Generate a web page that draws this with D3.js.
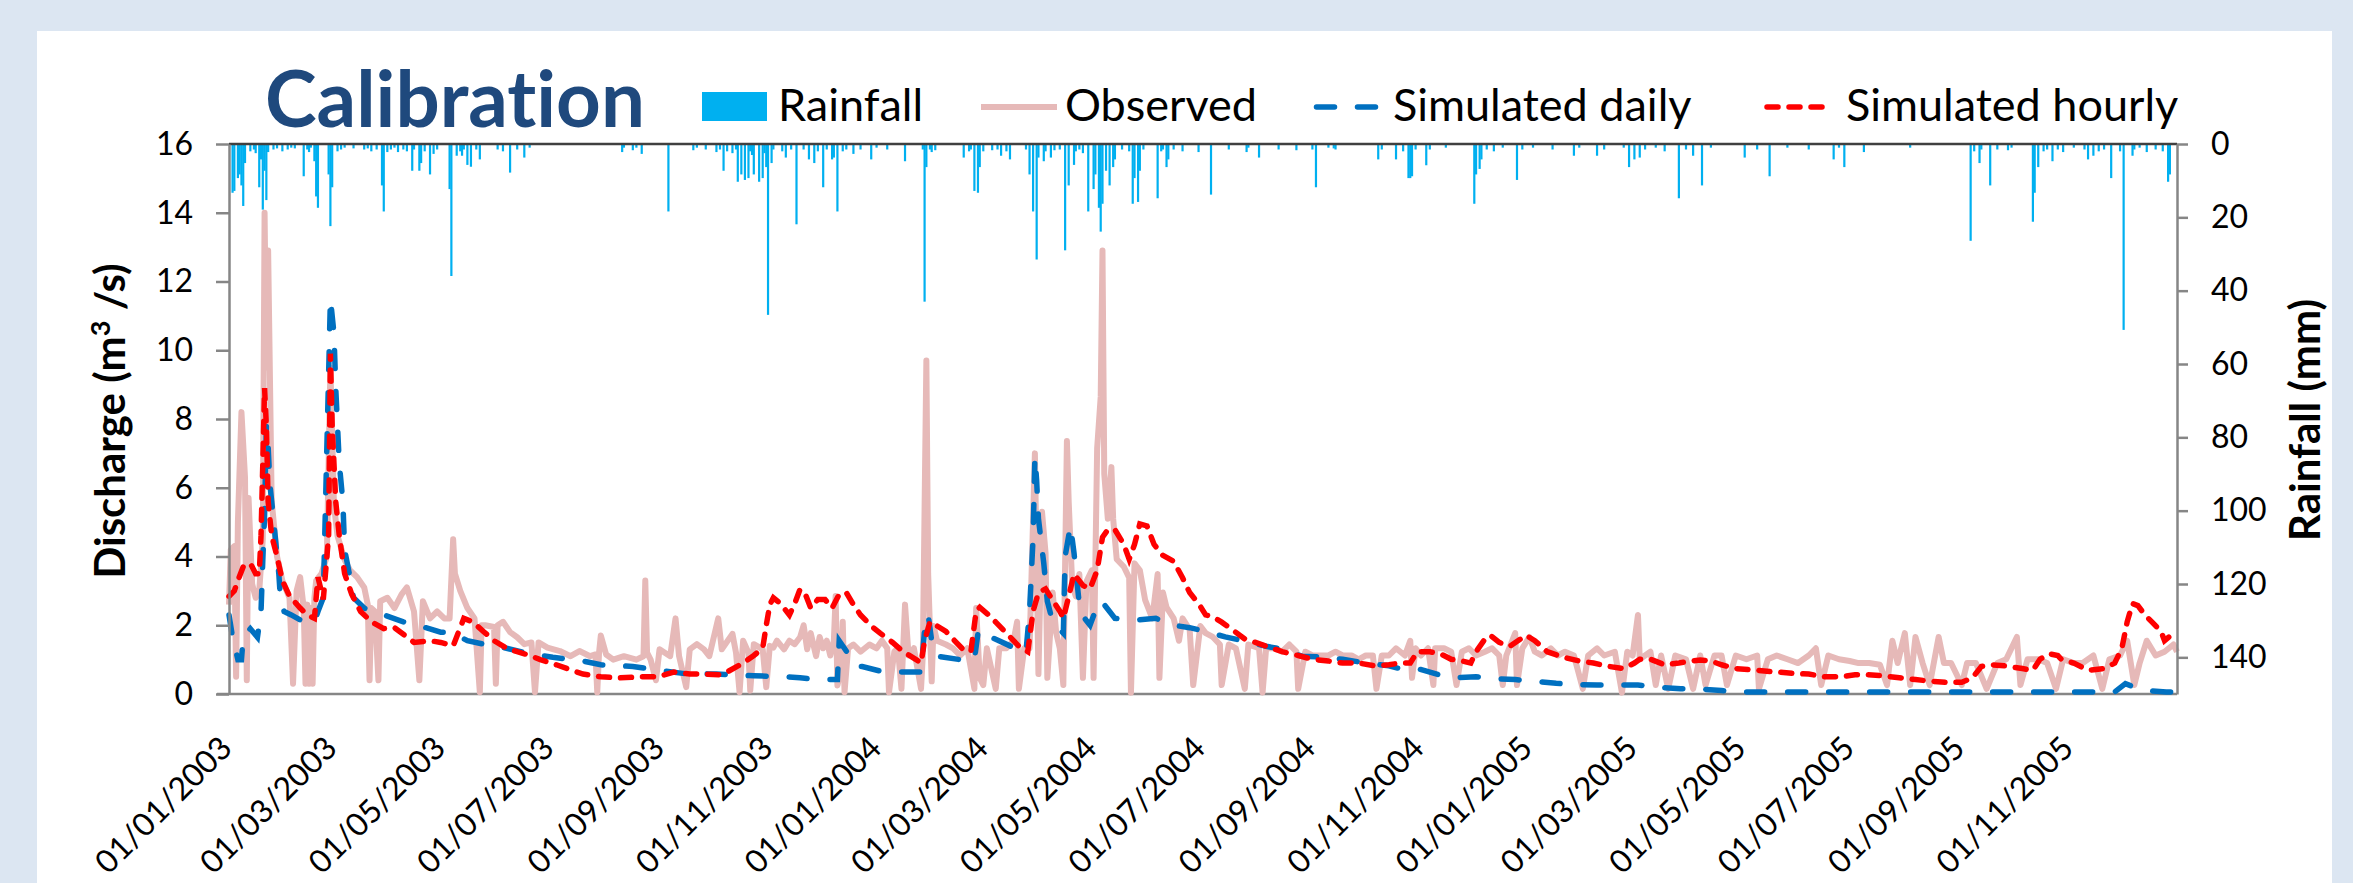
<!DOCTYPE html>
<html>
<head>
<meta charset="utf-8">
<script src="https://cdn.jsdelivr.net/npm/d3@7"></script>
<style>
  html, body { margin: 0; padding: 0; background: #dce6f2; }
  svg { display: block; }
  text { font-family: Lato, "Open Sans", sans-serif; font-variant-ligatures: none; }
</style>
</head>
<body>
<div id="graf"></div>
<script>
// I. Datos (dia = dias desde 01/01/2003)

const startDate = '01/01/2003'
const endDate = '31/12/2005'

const tickLabels = ['01/01/2003', '01/03/2003', '01/05/2003', '01/07/2003', '01/09/2003', '01/11/2003',
  '01/01/2004', '01/03/2004', '01/05/2004', '01/07/2004', '01/09/2004', '01/11/2004',
  '01/01/2005', '01/03/2005', '01/05/2005', '01/07/2005', '01/09/2005', '01/11/2005']
const dischargeTicks = [0, 2, 4, 6, 8, 10, 12, 14, 16]
const rainTicks = [0, 20, 40, 60, 80, 100, 120, 140]

// caudal observado [dia, m3/s]
const observed = [
  [0,2.6],[1,4.2],[3,4.3],[4,0.5],[5,5.0],[7,8.2],[9,6.3],[10,0.4],[11,5.7],[13,3.2],[15,2.8],[17,3.0],[19,4.5],
  [20,14.0],[21,9.5],[22,12.9],[24,5.6],[27,4.0],[30,3.3],[34,2.8],[36,0.3],[38,3.0],[40,3.4],[42,2.5],[43,0.3],
  [44,2.6],[45,0.3],[46,2.5],[47,0.3],[48,2.8],[49,3.3],[52,3.5],[55,4.0],[57,9.5],[59,5.5],[61,4.6],[65,3.9],
  [68,3.6],[72,3.4],[76,3.1],[78,2.6],[79,0.4],[80,2.5],[82,2.4],[84,0.4],[85,2.7],[89,2.8],[93,2.5],[97,2.9],
  [100,3.1],[104,2.4],[107,0.4],[109,2.7],[113,2.2],[117,2.4],[121,2.2],[124,2.2],[126,4.5],[127,3.5],[130,3.0],
  [134,2.5],[138,2.2],[141,0.05],[142,2.0],[144,2.0],[149,1.95],[150,0.3],[151,2.0],[154,2.1],[158,1.8],[162,1.65],
  [166,1.45],[170,1.5],[172,0.05],[174,1.5],[179,1.35],[186,1.25],[192,1.1],[197,1.25],[203,1.1],[206,1.15],
  [207,0.05],[208,1.2],[209,1.7],[212,1.15],[216,1.0],[222,1.1],[229,1.0],[233,1.1],[234,3.3],[235,1.2],[237,1.0],
  [240,0.4],[242,1.3],[248,1.1],[251,2.2],[253,1.1],[257,0.2],[259,1.3],[263,1.45],[267,1.3],[270,1.1],[275,2.2],
  [277,1.3],[283,1.75],[285,1.2],[287,0.05],[289,1.55],[292,1.2],[293,0.1],[295,1.45],[300,1.3],[302,0.2],[304,1.4],
  [306,1.35],[308,1.55],[312,1.3],[315,1.55],[318,1.45],[321,1.65],
  [323,2.0],[325,1.3],[327,1.77],[330,1.1],[332,1.66],[334,1.33],[336,1.55],[338,1.12],[340,1.55],[341,2.85],
  [342,0.25],[344,0.7],[345,2.1],[346,0.05],[348,1.33],[351,1.44],[355,1.23],[360,1.44],[364,1.33],[367,1.55],
  [370,1.33],[371,0.05],[374,1.23],[376,1.33],[378,0.15],[380,2.6],[382,1.12],[385,1.33],[389,0.15],[390,1.12],
  [392,9.7],[393,3.5],[395,0.37],[396,1.98],[398,1.55],[403,1.44],[407,1.33],[411,1.12],[415,1.33],[419,0.15],
  [420,2.5],[422,0.47],[424,0.26],[426,1.33],[431,0.15],[433,1.33],[437,1.33],[441,1.55],[443,2.1],[444,0.15],
  [447,1.33],[450,1.33],[453,7.0],[455,0.58],[457,5.3],[459,4.1],[460,0.47],[463,2.95],[465,1.77],[467,1.33],
  [469,0.26],[471,7.36],[472,5.6],[474,3.16],[476,2.84],[478,3.49],[480,0.47],[482,3.27],[485,3.6],[486,0.47],
  [488,7.15],[490,8.65],[491,12.9],[492,6.4],[494,5.1],[496,6.6],[497,5.1],[499,3.92],[503,3.7],[506,3.38],
  [507,0.04],[509,3.8],[512,3.6],[515,2.73],[519,2.2],[522,3.49],[523,0.47],[525,2.95],[527,2.52],[531,2.2],
  [534,1.55],[536,2.2],[540,1.87],[542,0.26],[546,1.98],[549,1.77],[553,1.66],[557,1.44],[558,0.26],[562,1.44],
  [566,1.33],[571,0.15],[573,1.44],[579,1.33],[581,0.04],[583,1.33],[588,1.33],[592,1.23],[596,1.44],[600,1.23],
  [601,0.15],[605,1.23],[609,1.12],[613,1.12],[618,1.12],[622,1.23],[626,1.12],[631,1.12],[635,1.01],[639,1.12],
  [643,1.12],[645,0.15],[648,1.12],[652,1.12],[656,1.33],
  [661,1.12],[664,1.55],[665,0.47],[667,1.33],[670,1.12],[674,1.33],[677,0.26],[678,1.33],[683,1.33],[687,1.23],
  [690,0.26],[693,1.23],[697,1.33],[701,1.12],[706,1.23],[710,1.33],[714,1.12],[716,0.26],[718,1.12],[723,1.77],
  [724,0.26],[727,1.33],[731,1.66],[734,1.23],[738,1.12],[743,1.33],[747,1.12],[751,1.23],[756,1.12],[761,0.15],
  [764,1.12],[769,1.33],[773,1.12],[779,1.23],[783,0.04],[786,1.23],[789,1.12],[792,2.3],[793,1.01],[799,1.23],
  [802,0.26],[805,1.12],[809,0.15],[813,1.12],[819,1.01],[823,0.15],[827,1.12],[830,0.26],[835,1.12],[839,1.12],
  [842,0.26],[847,1.12],[853,1.01],[859,1.12],[860,0.15],[865,1.01],[870,1.12],[876,1.01],[882,0.9],[888,1.12],
  [892,1.33],[895,0.26],[899,1.12],[905,1.01],[911,0.96],[916,0.9],[922,0.9],[928,0.85],[932,0.26],[935,1.55],
  [938,0.9],[942,1.77],[945,0.26],[948,1.66],[952,0.9],[956,0.26],[961,1.66],[964,0.9],[968,0.9],[974,0.26],
  [977,0.9],[982,0.9],[988,0.15],[994,0.9],[999,1.01],[1005,1.66],[1007,0.26],[1011,1.01],[1017,1.01],[1022,0.9],
  [1027,0.15],[1031,1.01],[1037,0.9],[1042,0.9],[1048,1.12],[1053,0.15],[1057,1.01],[1063,1.12],[1067,1.55],
  [1071,0.26],[1074,0.9],[1078,1.55],[1083,1.12],[1088,1.23],[1093,1.44],[1095,1.23]
]

// simulado diario [dia, m3/s]
const simDaily = [
  [0,2.3],[2,1.65],[5,1.0],[7,1.0],[8,1.65],[12,1.9],[16,1.65],[18,2.4],[19,3.9],[20,5.2],[21,7.8],[22,7.2],
  [23,6.1],[25,5.1],[28,3.5],[29,2.7],[31,2.4],[35,2.3],[42,2.1],[48,2.1],[50,2.4],[53,2.8],[57,11.5],[59,10.5],
  [60,8.9],[62,6.7],[64,5.6],[65,4.2],[68,3.4],[70,2.8],[76,2.5],[87,2.3],[98,2.1],[106,2.0],[119,1.8],[125,1.8],
  [134,1.55],[143,1.45],[156,1.33],[169,1.17],[182,1.07],[199,0.96],[209,0.85],[227,0.8],[242,0.69],[255,0.6],
  [274,0.58],[295,0.53],[313,0.5],[321,0.47],[330,0.42],[342,0.42],[343,1.55],[349,1.1],[353,0.8],[356,0.8],
  [368,0.64],[389,0.64],[391,1.87],[393,2.3],[395,1.55],[398,1.1],[411,1.0],[419,1.0],[421,1.77],[424,1.55],
  [428,1.66],[439,1.4],[448,1.23],[450,2.4],[452,4.56],[453,6.9],[454,6.2],[455,5.1],[458,3.8],[460,2.7],
  [463,2.1],[469,1.77],[470,4.0],[473,4.9],[475,4.1],[478,2.6],[481,2.2],[484,2.0],[489,2.7],[492,2.6],[495,2.4],
  [498,2.2],[510,2.15],[521,2.2],[531,2.0],[540,1.93],[549,1.82],[560,1.66],[570,1.55],[583,1.39],[594,1.28],
  [603,1.1],[616,1.07],[626,1.01],[639,0.9],[652,0.82],[658,0.74],[668,0.74],[682,0.53],[687,0.47],[701,0.5],
  [711,0.45],[723,0.42],[733,0.37],[746,0.31],[756,0.28],[769,0.26],[780,0.26],[792,0.26],[802,0.2],[816,0.15],
  [826,0.15],[839,0.1],[850,0.06],[862,0.06],[1060,0.06],[1066,0.3],[1071,0.2],[1077,0.1],[1089,0.06],[1095,0.06]
]

// simulado horario [dia, m3/s]
const simHourly = [
  [0,2.84],[3,3.0],[5,3.3],[8,3.7],[12,3.8],[15,3.5],[17,3.5],[18,4.6],[19,6.7],[20,8.9],[21,7.8],[22,5.6],
  [23,5.1],[24,4.6],[27,4.0],[30,3.3],[34,2.85],[40,2.5],[44,2.3],[48,2.2],[50,3.4],[53,2.75],[56,4.6],[57,9.9],
  [58,7.8],[60,5.6],[62,4.6],[65,3.5],[69,2.9],[74,2.4],[80,2.1],[87,1.9],[93,1.93],[100,1.66],[104,1.5],
  [113,1.55],[119,1.5],[126,1.4],[132,2.2],[137,2.1],[143,1.82],[149,1.55],[156,1.33],[162,1.23],[168,1.14],
  [175,1.0],[184,0.85],[190,0.74],[199,0.58],[209,0.5],[220,0.47],[231,0.5],[241,0.5],[250,0.64],[259,0.58],
  [267,0.58],[276,0.56],[280,0.64],[289,0.9],[295,1.12],[300,1.33],[302,2.0],[304,2.6],[306,2.8],[310,2.63],
  [315,2.3],[318,2.63],[321,3.05],[324,2.9],[327,2.5],[331,2.75],[335,2.75],[339,2.5],[343,2.9],[347,2.95],
  [351,2.6],[355,2.3],[361,1.98],[366,1.77],[373,1.5],[379,1.23],[386,1.01],[389,0.9],[391,1.55],[394,2.1],
  [398,1.98],[403,1.82],[407,1.6],[412,1.33],[417,1.23],[420,2.41],[422,2.52],[427,2.3],[431,2.09],[437,1.77],
  [444,1.39],[449,1.23],[452,2.41],[455,2.95],[459,3.06],[463,2.73],[467,2.41],[469,2.2],[472,2.84],[475,3.49],
  [480,3.16],[484,3.06],[488,3.6],[491,4.56],[494,4.78],[498,4.78],[503,4.35],[506,3.92],[509,4.35],[512,4.95],
  [516,4.89],[520,4.35],[525,4.03],[531,3.86],[536,3.38],[540,2.95],[545,2.63],[549,2.3],[553,2.25],[558,2.09],
  [564,1.87],[571,1.6],[577,1.5],[583,1.39],[592,1.23],[601,1.12],[609,1.01],[618,0.96],[626,0.9],[635,0.9],
  [644,0.82],[652,0.85],[658,0.9],[664,0.9],[668,1.23],[675,1.23],[681,1.17],[687,1.01],[693,0.96],[698,0.9],
  [701,1.23],[706,1.6],[709,1.71],[714,1.5],[720,1.39],[726,1.6],[729,1.71],[734,1.55],[741,1.23],[750,1.07],
  [759,0.96],[767,0.9],[776,0.8],[784,0.74],[790,0.9],[793,1.01],[799,1.01],[807,0.85],[815,0.9],[822,0.96],
  [827,0.99],[833,0.96],[839,0.85],[847,0.74],[859,0.69],[870,0.64],[879,0.6],[888,0.58],[897,0.5],[906,0.5],
  [914,0.56],[921,0.56],[930,0.53],[939,0.47],[948,0.42],[957,0.37],[965,0.34],[974,0.34],[980,0.47],[985,0.8],
  [991,0.85],[998,0.82],[1008,0.74],[1014,0.69],[1018,1.01],[1023,1.17],[1028,1.12],[1030,1.01],[1037,0.9],
  [1045,0.69],[1054,0.74],[1060,0.9],[1064,1.33],[1067,2.1],[1070,2.63],[1073,2.57],[1077,2.3],[1081,2.09],
  [1086,1.82],[1088,1.55],[1093,1.77],[1095,1.83]
]

// lluvia diaria [dia, mm]
const rainfall = [
  [2,13.3],[3,12.8],[5,9.3],[6,8.3],[7,11.3],[8,16.9],[9,5.2],[12,2],[14,1.5],[15,2.5],[17,11.8],[18,4.2],[19,17.9],
  [20,7.3],[21,15.3],[22,2.2],[25,1.5],[27,1.2],[30,2],[33,1.5],[35,1],[37,1.2],[42,8.8],[44,1.5],[45,2.2],[46,1],
  [48,4.7],[49,14.3],[50,17.4],[56,8.3],[57,22.4],[58,11.8],[61,2],[63,1.5],[65,1],[70,1.2],[76,1.5],[78,1.2],
  [80,2],[83,1.5],[86,11.3],[87,18.4],[89,2.2],[91,1.5],[93,1],[95,2.2],[98,1.5],[100,2],[103,7.3],[104,1.5],
  [107,7.3],[108,5.2],[110,2],[113,8.3],[115,2.7],[117,1.5],[124,12.3],[125,36],[128,3.2],[130,2],[131,3.2],
  [132,1.5],[134,5.7],[136,6.2],[139,1.5],[141,4.2],[151,1.5],[154,2],[158,7.8],[162,1.5],[166,3.7],[169,1],
  [221,2.2],[222,1],[227,1.7],[229,1],[232,2.7],[247,18.4],[261,1.7],[263,1],[268,1.5],[274,2.2],[276,1.5],
  [278,7.3],[280,2],[283,2.5],[285,1.5],[286,10.3],[288,8.3],[290,9.8],[292,9.3],[293,2],[294,3],[295,8.3],
  [298,10.3],[300,9.3],[301,2.5],[302,6.3],[303,46.6],[305,5.2],[306,1.5],[311,2],[313,3.7],[316,1.5],[319,21.9],
  [323,1.5],[326,4.2],[329,5.2],[331,2],[334,11.8],[336,1.5],[339,4.2],[340,3.7],[342,18.4],[345,2],[347,1.5],
  [351,2.7],[355,1.5],[361,4.2],[364,1],[370,1.5],[380,4.7],[390,1.5],[391,43],[392,6.3],[394,1.5],[395,2.2],
  [397,1.7],[413,3.7],[416,2],[417,1.5],[419,12.8],[421,13.3],[422,6.3],[424,2],[429,1.7],[432,1.5],[434,3.2],
  [437,2],[439,4.2],[448,1.5],[450,8.3],[452,18.4],[454,31.5],[455,3.7],[458,4.7],[459,2],[462,3.7],[464,1.7],
  [467,1.5],[470,29],[472,11.3],[475,5.7],[476,2],[478,1.5],[480,2.5],[483,18.4],[486,12.3],[487,8.3],[489,17.4],
  [490,23.9],[491,16.3],[493,7.3],[495,11.3],[497,6.3],[498,4.2],[502,1.5],[506,2],[508,16.3],[509,9.3],
  [511,15.8],[512,7.3],[514,1.5],[522,14.8],[524,2],[525,1.5],[527,6.3],[528,4.2],[531,1.5],[536,2],[545,2.2],
  [552,13.8],[562,1.5],[572,2.2],[573,1],[579,3.7],[590,1.5],[600,1.7],[609,1.5],[611,11.8],[618,1],[621,1.2],
  [622,1.5],[646,4.2],[648,1.5],[656,4.2],
  [660,2],[663,9.3],[664,9.3],[665,8.8],[667,1.5],[673,5.8],[675,1.5],[684,1],[700,16.3],[701,8.3],[703,6.8],
  [704,4.2],[707,1.5],[711,2],[716,1],[724,9.8],[727,1.5],[733,1],[744,1.5],[756,3.2],[759,1],[769,3.2],[773,1.5],
  [784,1],[787,6.3],[790,4.2],[793,3.7],[796,1.5],[802,1],[807,2],[815,14.8],[819,1.5],[823,3.2],[828,11.3],
  [833,1],[852,3.7],[859,1.5],[866,8.8],[876,1],[888,1.5],[902,4.2],[905,1],[908,6.3],[919,2.2],[945,1],
  [979,26.4],[981,2],[984,5.2],[985,1.5],[990,11.3],[994,1.5],[1000,1.7],[1002,1],[1014,21.2],[1015,13.3],
  [1017,6.3],[1020,2],[1022,1.5],[1025,4.7],[1028,1.5],[1031,2.2],[1037,1],[1043,1.5],[1045,4.2],[1048,3.2],
  [1051,2],[1054,1.5],[1058,9.3],[1063,2],[1065,50.7],[1070,3.2],[1071,1.5],[1074,1],[1078,2.2],[1083,1.5],
  [1087,2],[1090,10.3],[1091,8.3]
]

// II. Configuracion

const ancho_total = 2353
const alto_total = 883
const plot = { left: 229, right: 2177, top: 144, bottom: 694 }

const parseTime = d3.timeParse('%d/%m/%Y')
const t0 = parseTime(startDate)
const dia = d => d3.timeDay.offset(t0, d)

const svg = d3.select('#graf').append('svg')
  .attr('width', ancho_total)
  .attr('height', alto_total)

// panel blanco
svg.append('rect')
  .attr('x', 37).attr('y', 31)
  .attr('width', 2295).attr('height', 880)
  .attr('fill', '#ffffff')

// Escaladores
const x = d3.scaleTime().domain([t0, parseTime(endDate)]).range([plot.left, plot.right])
const y = d3.scaleLinear().domain([0, 16]).range([plot.bottom, plot.top])
const yRain = d3.scaleLinear().domain([0, 150]).range([plot.top, plot.bottom])

const gris = '#868686'

// eje inferior
svg.append('line')
  .attr('x1', plot.left - 12).attr('x2', plot.right)
  .attr('y1', plot.bottom).attr('y2', plot.bottom)
  .attr('stroke', gris).attr('stroke-width', 2.5)

// Series
const valueline = d3.line()
  .x(d => x(dia(d[0])))
  .y(d => y(d[1]))

svg.append('path')
  .datum(observed)
  .attr('d', valueline)
  .attr('fill', 'none')
  .attr('stroke', '#e6b9b8')
  .attr('stroke-width', 6)
  .attr('stroke-linejoin', 'round')

svg.append('path')
  .datum(simDaily)
  .attr('d', valueline)
  .attr('fill', 'none')
  .attr('stroke', '#0070c0')
  .attr('stroke-width', 5.5)
  .attr('stroke-linecap', 'round')
  .attr('stroke-dasharray', '18,23')

svg.append('path')
  .datum(simHourly)
  .attr('d', valueline)
  .attr('fill', 'none')
  .attr('stroke', '#ff0000')
  .attr('stroke-width', 5.5)
  .attr('stroke-linecap', 'round')
  .attr('stroke-dasharray', '11,11')

// lluvia (barras colgando del borde superior)
svg.append('g')
  .selectAll('rect')
  .data(rainfall)
  .join('rect')
  .attr('x', d => x(dia(d[0])) - 1.1)
  .attr('y', plot.top)
  .attr('width', 2.2)
  .attr('height', d => yRain(d[1]) - plot.top)
  .attr('fill', '#00b0f0')

// borde superior
svg.append('line')
  .attr('x1', plot.left).attr('x2', plot.right)
  .attr('y1', plot.top).attr('y2', plot.top)
  .attr('stroke', '#404040').attr('stroke-width', 2.5)

// Ejes
function estiloEje(g) {
  g.select('.domain').attr('stroke', gris).attr('stroke-width', 2.5)
  g.selectAll('.tick line').attr('stroke', gris).attr('stroke-width', 2.5)
  g.selectAll('.tick text')
    .attr('fill', '#000')
    .style('font-size', '32px')
    .style('font-family', 'Lato, sans-serif')
}

svg.append('g')
  .attr('transform', `translate(${plot.left}, 0)`)
  .call(d3.axisLeft(y).tickValues(dischargeTicks).tickSize(13).tickSizeOuter(0).tickPadding(23))
  .call(estiloEje)

svg.append('g')
  .attr('transform', `translate(${plot.right}, 0)`)
  .call(d3.axisRight(yRain).tickValues(rainTicks).tickSize(11).tickSizeOuter(0).tickPadding(23))
  .call(estiloEje)

// etiquetas de fecha
svg.append('g')
  .selectAll('text')
  .data(tickLabels)
  .join('text')
  .attr('transform', d => `translate(${x(parseTime(d)) + 5}, 750) rotate(-45)`)
  .attr('text-anchor', 'end')
  .style('font-size', '32px')
  .text(d => d)

// titulos de ejes
const yLab = svg.append('text')
  .attr('transform', 'translate(125, 421) rotate(-90)')
  .attr('text-anchor', 'middle')
  .style('font-size', '42px')
  .style('font-weight', 'bold')
yLab.append('tspan').text('Discharge (m')
yLab.append('tspan').text('3').attr('dy', -15).style('font-size', '27px')
yLab.append('tspan').text(' /s)').attr('dy', 15)

svg.append('text')
  .attr('transform', 'translate(2320, 420) rotate(-90)')
  .attr('text-anchor', 'middle')
  .style('font-size', '42px')
  .style('font-weight', 'bold')
  .text('Rainfall (mm)')

// Titulo
svg.append('text')
  .attr('x', 265).attr('y', 127)
  .style('font-size', '78px')
  .style('font-weight', 'bold')
  .attr('fill', '#1f497d')
  .text('Calibration')

// Leyenda
const ley = svg.append('g')
ley.append('rect').attr('x', 702).attr('y', 92).attr('width', 65).attr('height', 29).attr('fill', '#00b0f0')
ley.append('line').attr('x1', 981).attr('x2', 1057).attr('y1', 107).attr('y2', 107)
  .attr('stroke', '#e6b9b8').attr('stroke-width', 6)
ley.append('line').attr('x1', 1316.5).attr('x2', 1375.5).attr('y1', 107).attr('y2', 107)
  .attr('stroke', '#0070c0').attr('stroke-width', 5.5).attr('stroke-linecap', 'round').attr('stroke-dasharray', '18,23')
ley.append('line').attr('x1', 1767).attr('x2', 1822).attr('y1', 107).attr('y2', 107)
  .attr('stroke', '#ff0000').attr('stroke-width', 5.5).attr('stroke-linecap', 'round').attr('stroke-dasharray', '11,11')

const leyText = [['Rainfall', 778], ['Observed', 1065], ['Simulated daily', 1393], ['Simulated hourly', 1846]]
ley.selectAll('text.ley')
  .data(leyText)
  .join('text')
  .attr('class', 'ley')
  .attr('x', d => d[1])
  .attr('y', 121)
  .style('font-size', '45px')
  .text(d => d[0])
</script>
</body>
</html>
